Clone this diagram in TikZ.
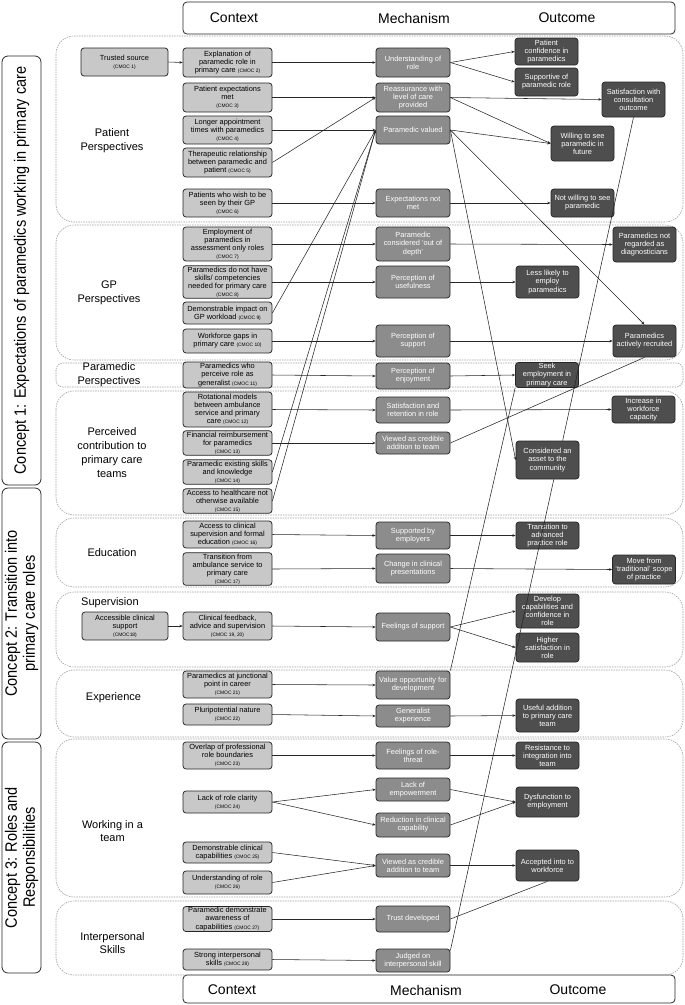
\documentclass[tikz,border=0pt]{standalone}
\usepackage{fontspec}
\setmainfont{Liberation Sans}
\newfontfamily\narrowfont[FakeStretch=0.88]{Liberation Sans}
\usetikzlibrary{arrows.meta,calc}
\definecolor{ctxfill}{HTML}{C8C8C8}
\definecolor{mechfill}{HTML}{8C8C8C}
\definecolor{outfill}{HTML}{4E4E4E}
\definecolor{edgecol}{HTML}{262626}
\definecolor{grpcol}{HTML}{A0A0A0}
\newcommand{\cm}[1]{{\fontsize{4.9}{5.5}\selectfont #1}}
\tikzset{
  box/.style={draw=edgecol, line width=0.75pt, rounded corners=3pt, align=center, inner sep=1pt, font=\fontsize{7.4}{8.1}\selectfont},
  ctx/.style={box, fill=ctxfill, text=black, minimum width=89},
  mech/.style={box, fill=mechfill, text=white, minimum width=74},
  outc/.style={box, fill=outfill, text=white, minimum width=63},
  grp/.style={draw=grpcol, dash pattern=on 1.5pt off 1pt, rounded corners=18pt, line width=0.6pt},
  grps/.style={grp, rounded corners=7pt},
  conc/.style={draw=edgecol, line width=0.8pt, rounded corners=6pt, fill=white, align=center, inner sep=1pt, font=\narrowfont\fontsize{16.5}{18}\selectfont},
  hdr/.style={draw=edgecol, line width=0.8pt, rounded corners=4pt, fill=white},
  hdrtxt/.style={font=\fontsize{14}{16}\selectfont, inner sep=0pt},
  lbl/.style={align=center, font=\fontsize{11}{13.8}\selectfont, inner sep=0pt},
  con/.style={draw=edgecol, line width=0.55pt, -{Stealth[length=3.2pt,width=2.6pt]}},
  lin/.style={draw=edgecol, line width=0.55pt}
}
\begin{document}
\begin{tikzpicture}[x=1pt,y=-1pt]
\useasboundingbox (0,0) rectangle (685,1005);
% header boxes
\node[hdr, minimum width=492, minimum height=32] (toph) at (429,18) {};
\node[hdrtxt] (thc) at (234,18) {Context};
\node[hdrtxt] (thm) at (414,18) {Mechanism};
\node[hdrtxt] (tho) at (567,18) {Outcome};
\node[hdr, minimum width=492, minimum height=28] (both) at (429,989) {};
\node[hdrtxt] (bhc) at (232,990) {Context};
\node[hdrtxt] (bhm) at (426,990) {Mechanism};
\node[hdrtxt] (bho) at (578,990) {Outcome};
% concept boxes
\node[conc, rotate=90, minimum width=429, minimum height=39] (k1) at (21.5,270.5) {Concept 1: Expectations of paramedics working in primary care};
\node[conc, rotate=90, minimum width=251, minimum height=39] (k2) at (21.5,613.5) {Concept 2: Transition into\\primary care roles};
\node[conc, rotate=90, minimum width=231, minimum height=39] (k3) at (21.5,857.5) {Concept 3: Roles and\\Responsibilities};
% groups
\draw[grp] (56,36) rectangle (683,222);
\draw[grp] (56,225) rectangle (683,360);
\draw[grps] (56,363) rectangle (683,387);
\draw[grp] (56,391) rectangle (683,515);
\draw[grp] (56,518) rectangle (683,587);
\draw[grp] (56,592) rectangle (683,667);
\draw[grp] (56,670) rectangle (683,737);
\draw[grp] (56,739) rectangle (683,897);
\draw[grp] (56,901) rectangle (683,975);
% group labels
\node[lbl] (lpat) at (112,141) {Patient\\Perspectives};
\node[lbl] (lgp) at (109,292.5) {GP\\Perspectives};
\node[lbl] (lpar) at (109,375) {Paramedic\\Perspectives};
\node[lbl] (lcon) at (112,452.5) {Perceived\\contribution to\\primary care\\teams};
\node[lbl] (ledu) at (112,553) {Education};
\node[lbl, anchor=west] (lsup) at (81,603) {Supervision};
\node[lbl] (lexp) at (113.5,698) {Experience};
\node[lbl] (lwork) at (112.5,831) {Working in a\\team};
\node[lbl] (lint) at (112.5,943) {Interpersonal\\Skills};
% context nodes
\node[ctx, minimum width=87, minimum height=28] (c1) at (124.5,62) {Trusted source\\\cm{(CMOC 1)}};
\node[ctx, minimum height=29] (c2) at (227.5,62.5) {Explanation of\\paramedic role in\\primary care \cm{(CMOC 2)}};
\node[ctx, minimum height=29] (c3) at (227.5,97.5) {Patient expectations\\met\\\cm{(CMOC 3)}};
\node[ctx, minimum height=28] (c4) at (227.5,130) {Longer appointment\\times with paramedics\\\cm{(CMOC 4)}};
\node[ctx, minimum height=29] (c5) at (227.5,162.5) {Therapeutic relationship\\between paramedic and\\patient \cm{(CMOC 5)}};
\node[ctx, minimum height=28] (c6) at (227.5,203) {Patients who wish to be\\seen by their GP\\\cm{(CMOC 6)}};
\node[ctx, minimum height=34] (c7) at (227.5,244) {Employment of\\paramedics in\\assessment only roles\\\cm{(CMOC 7)}};
\node[ctx, minimum height=32] (c8) at (227.5,282) {Paramedics do not have\\skills/ competencies\\needed for primary care\\\cm{(CMOC 8)}};
\node[ctx, minimum height=22] (c9) at (227.5,313) {Demonstrable impact on\\GP workload \cm{(CMOC 9)}};
\node[ctx, minimum height=24] (c10) at (227.5,341) {Workforce gaps in\\primary care \cm{(CMOC 10)}};
\node[ctx, minimum height=26] (c11) at (227.5,375) {Paramedics who\\perceive role as\\generalist \cm{(CMOC 11)}};
\node[ctx, minimum height=35] (c12) at (227.5,409.5) {Rotational models\\between ambulance\\service and primary\\care \cm{(CMOC 12)}};
\node[ctx, minimum height=24] (c13) at (227.5,443) {Financial reimbursement\\for paramedics\\\cm{(CMOC 13)}};
\node[ctx, minimum height=24] (c14) at (227.5,472) {Paramedic existing skills\\and knowledge\\\cm{(CMOC 14)}};
\node[ctx, minimum height=24] (c15) at (227.5,501) {Access to healthcare not\\otherwise available\\\cm{(CMOC 15)}};
\node[ctx, minimum height=27] (c16) at (227.5,534.5) {Access to clinical\\supervision and formal\\education \cm{(CMOC 16)}};
\node[ctx, minimum height=32] (c17) at (227.5,569) {Transition from\\ambulance service to\\primary care\\\cm{(CMOC 17)}};
\node[ctx, minimum width=86, minimum height=28] (c18) at (125,626) {Accessible clinical\\support\\\cm{(CMOC18)}};
\node[ctx, minimum height=28] (c19) at (227.5,626) {Clinical feedback,\\advice and supervision\\\cm{(CMOC 19, 20)}};
\node[ctx, minimum height=27] (c21) at (227.5,684.5) {Paramedics at junctional\\point in career\\\cm{(CMOC 21)}};
\node[ctx, minimum height=21] (c22) at (227.5,714.5) {Pluripotential nature\\\cm{(CMOC 22)}};
\node[ctx, minimum height=27] (c23) at (227.5,755.5) {Overlap of professional\\role boundaries\\\cm{(CMOC 23)}};
\node[ctx, minimum height=22] (c24) at (227.5,802) {Lack of role clarity\\\cm{(CMOC 24)}};
\node[ctx, minimum height=21] (c25) at (227.5,852.5) {Demonstrable clinical\\capabilities \cm{(CMOC 25)}};
\node[ctx, minimum height=23] (c26) at (227.5,882.5) {Understanding of role\\\cm{(CMOC 26)}};
\node[ctx, minimum height=24] (c27) at (227.5,919) {Paramedic demonstrate\\awareness of\\capabilities \cm{(CMOC 27)}};
\node[ctx, minimum height=21] (c28) at (227.5,959.5) {Strong interpersonal\\skills \cm{(CMOC 28)}};
% mechanism nodes
\node[mech, minimum height=29] (m1) at (413,62.5) {Understanding of\\role};
\node[mech, minimum height=29] (m2) at (413,97.5) {Reassurance with\\level of care\\provided};
\node[mech, minimum height=28] (m3) at (413,130) {Paramedic valued};
\node[mech, minimum height=28] (m4) at (413,203) {Expectations not\\met};
\node[mech, minimum height=34] (m5) at (413,244) {Paramedic\\considered ‘out of\\depth’};
\node[mech, minimum height=32] (m6) at (413,282) {Perception of\\usefulness};
\node[mech, minimum height=32] (m7) at (413,341) {Perception of\\support};
\node[mech, minimum height=26] (m8) at (413,376) {Perception of\\enjoyment};
\node[mech, minimum height=26] (m9) at (413,410) {Satisfaction and\\retention in role};
\node[mech, minimum height=22] (m10) at (413,443) {Viewed as credible\\addition to team};
\node[mech, minimum height=27] (m11) at (413,535.5) {Supported by\\employers};
\node[mech, minimum height=29] (m12) at (413,568.5) {Change in clinical\\presentations};
\node[mech, minimum height=28] (m13) at (413,627) {Feelings of support};
\node[mech, minimum height=28] (m14) at (413,685) {Value opportunity for\\development};
\node[mech, minimum height=22] (m15) at (413,716) {Generalist\\experience};
\node[mech, minimum height=27] (m16) at (413,755.5) {Feelings of role-\\threat};
\node[mech, minimum height=23] (m17) at (413,789.5) {Lack of\\empowerment};
\node[mech, minimum height=24] (m18) at (413,825) {Reduction in clinical\\capability};
\node[mech, minimum height=23] (m19) at (413,865.5) {Viewed as credible\\addition to team};
\node[mech, minimum height=26] (m20) at (413,919) {Trust developed};
\node[mech, minimum height=23] (m21) at (413,960.5) {Judged on\\interpersonal skill};
% outcome nodes
\node[outc, minimum height=27] (o1) at (546.5,51.5) {Patient\\confidence in\\paramedics};
\node[outc, minimum height=28] (o2) at (546.5,82) {Supportive of\\paramedic role};
\node[outc, minimum height=35] (o3) at (633.5,99.5) {Satisfaction with\\consultation\\outcome};
\node[outc, minimum height=35] (o4) at (582.5,143.5) {Willing to see\\paramedic in\\future};
\node[outc, minimum height=28] (o5) at (582.5,203) {Not willing to see\\paramedic};
\node[outc, minimum height=35] (o6) at (644.5,244.5) {Paramedics not\\regarded as\\diagnosticians};
\node[outc, minimum height=32] (o7) at (547.5,282) {Less likely to\\employ\\paramedics};
\node[outc, minimum height=32] (o8) at (644.5,341) {Paramedics\\actively recruited};
\node[outc, minimum height=24] (o9) at (547,375) {Seek\\employment in\\primary care};
\node[outc, minimum height=27] (o10) at (643.5,409.5) {Increase in\\workforce\\capacity};
\node[outc, minimum height=38] (o11) at (547.5,460) {Considered an\\asset to the\\community};
\node[outc, minimum height=27] (o12) at (547.5,535.5) {Transition to\\advanced\\practice role};
\node[outc, minimum height=29] (o13) at (644,569.5) {Move from\\‘traditional’ scope\\of practice};
\node[outc, minimum height=34] (o14) at (547.5,611) {Develop\\capabilities and\\confidence in\\role};
\node[outc, minimum height=29] (o15) at (547.5,647.5) {Higher\\satisfaction in\\role};
\node[outc, minimum height=33] (o16) at (547.5,715.5) {Useful addition\\to primary care\\team};
\node[outc, minimum height=27] (o17) at (547.5,755.5) {Resistance to\\integration into\\team};
\node[outc, minimum height=30] (o18) at (547.5,802) {Dysfunction to\\employment};
\node[outc, minimum height=31] (o19) at (547.5,865.5) {Accepted into to\\workforce};
% connectors
\draw[con] (c1.east) -- (c2.west);
\draw[con] (c2.east) -- (m1.west);
\draw[con] (m1.east) -- (o1.west);
\draw[con] (m1.east) -- (o2.west);
\draw[con] (c3.east) -- (m2.west);
\draw[con] (c5.east) -- (m2.west);
\draw[con] (c4.east) -- (m3.west);
\draw[con] (c9.east) -- (m3.west);
\draw[con] (c14.east) -- (m3.west);
\draw[con] (c15.east) -- (m3.west);
\draw[con] (m2.east) -- (o3.west);
\draw[con] (m2.east) -- (o4.west);
\draw[con] (m3.east) -- (o4.west);
\draw[con] (m3.east) -- (o8.north);
\draw[con] (m3.east) -- (o11.west);
\draw[con] (c6.east) -- (m4.west);
\draw[con] (m4.east) -- (o5.west);
\draw[con] (c7.east) -- (m5.west);
\draw[con] (m5.east) -- (o6.west);
\draw[con] (c8.east) -- (m6.west);
\draw[con] (m6.east) -- (o7.west);
\draw[con] (c10.east) -- (m7.west);
\draw[con] (m7.east) -- (o8.west);
\draw[con] (c11.east) -- (m8.west);
\draw[con] (m8.east) -- (o9.west);
\draw[con] (c12.east) -- (m9.west);
\draw[con] (m9.east) -- (o10.west);
\draw[con] (c13.east) -- (m10.west);
\draw[lin] (m10.east) -- (o8.south);
\draw[lin] (m14.north east) -- (o9.south west);
\draw[lin] (m21.15) -- (o11.-72);
\draw[lin] (o11.52) -- (o3.south);
\draw[con] (c16.east) -- (m11.west);
\draw[con] (m11.east) -- (o12.west);
\draw[con] (c17.east) -- (m12.west);
\draw[con] (m12.east) -- (o13.west);
\draw[con] (c18.east) -- (c19.west);
\draw[con] (c19.east) -- (m13.west);
\draw[con] (m13.east) -- (o14.west);
\draw[con] (m13.east) -- (o15.west);
\draw[con] (c21.east) -- (m14.west);
\draw[con] (c22.east) -- (m15.west);
\draw[con] (m15.east) -- (o16.west);
\draw[con] (c23.east) -- (m16.west);
\draw[con] (m16.east) -- (o17.west);
\draw[con] (c24.east) -- (m17.west);
\draw[con] (c24.east) -- (m18.west);
\draw[con] (m17.east) -- (o18.west);
\draw[con] (m18.east) -- (o18.west);
\draw[con] (c25.east) -- (m19.west);
\draw[con] (c26.east) -- (m19.west);
\draw[con] (m19.east) -- (o19.west);
\draw[con] (c27.east) -- (m20.west);
\draw[lin] (m20.east) -- (o19.south);
\draw[con] (c28.east) -- (m21.west);
\end{tikzpicture}
\end{document}
